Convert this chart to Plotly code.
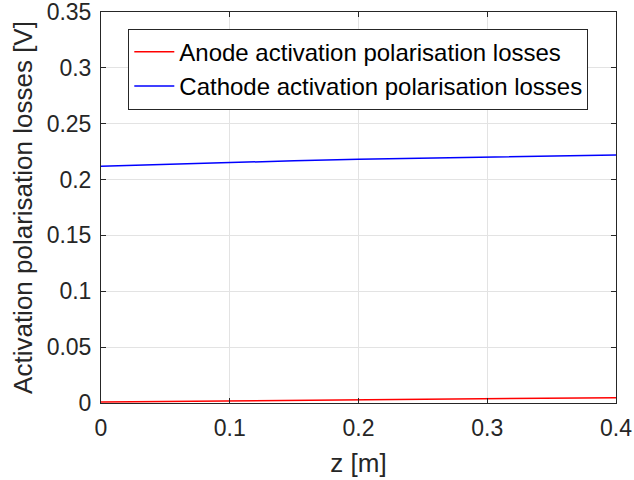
import plotly.graph_objects as go

z = [0.0, 0.05, 0.1, 0.15, 0.2, 0.25, 0.3, 0.35, 0.4]
anode = [0.0010, 0.0015, 0.0020, 0.0025, 0.0030, 0.0035, 0.0039, 0.0043, 0.0047]
cathode = [0.2120, 0.2138, 0.2154, 0.2168, 0.2181, 0.2192, 0.2203, 0.2212, 0.2221]

x_ticks = [0, 0.1, 0.2, 0.3, 0.4]
x_labels = ["0", "0.1", "0.2", "0.3", "0.4"]
y_ticks = [0, 0.05, 0.1, 0.15, 0.2, 0.25, 0.3, 0.35]
y_labels = ["0", "0.05", "0.1", "0.15", "0.2", "0.25", "0.3", "0.35"]

FONT = "Liberation Sans, Arial, sans-serif"

fig = go.Figure()
fig.add_trace(go.Scatter(x=z, y=anode, mode="lines", name="Anode activation polarisation losses",
                         line=dict(color="#ff0000", width=1.5)))
fig.add_trace(go.Scatter(x=z, y=cathode, mode="lines", name="Cathode activation polarisation losses",
                         line=dict(color="#0000ff", width=1.5)))

axis_common = dict(
    showline=True, linecolor="#262626", linewidth=1, mirror="allticks",
    ticks="inside", ticklen=5, tickcolor="#262626",
    showgrid=True, gridcolor="#e3e3e3", gridwidth=1, zeroline=False,
    automargin=False, ticklabeloverflow="allow",
    tickfont=dict(family=FONT, size=23, color="#262626"),
)

fig.update_layout(
    template="none",
    width=634, height=480,
    margin=dict(l=101, r=18, t=12, b=77, autoexpand=False),
    paper_bgcolor="white", plot_bgcolor="white",
    font=dict(family=FONT, color="#262626"),
    xaxis=dict(range=[0, 0.4], tickvals=x_ticks, ticktext=x_labels,
               title=dict(text="z [m]", font=dict(family=FONT, size=26, color="#262626"), standoff=14),
               ticklabelstandoff=4,
               **axis_common),
    yaxis=dict(range=[0, 0.35], tickvals=y_ticks, ticktext=y_labels,
               title=dict(text="Activation polarisation losses [V]", font=dict(family=FONT, size=26, color="#262626"), standoff=6),
               ticklabelstandoff=4,
               **axis_common),
    legend=dict(x=0.053, y=0.9576, xanchor="left", yanchor="top",
                bgcolor="white", bordercolor="#262626", borderwidth=1,
                font=dict(family=FONT, size=24, color="black"), tracegroupgap=0,
                itemwidth=40),
    showlegend=True,
)

fig.write_html("out.html")
